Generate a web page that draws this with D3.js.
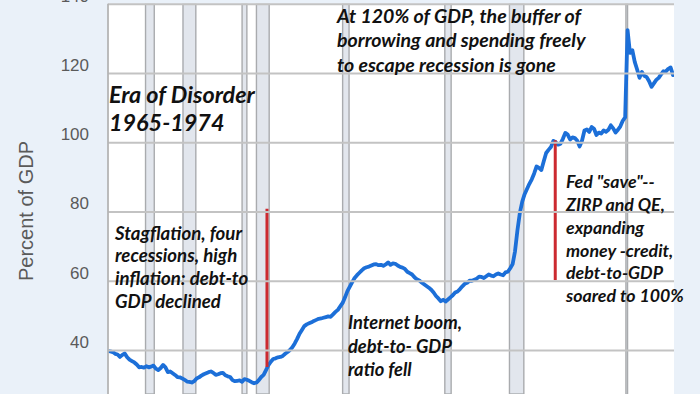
<!DOCTYPE html>
<html><head><meta charset="utf-8">
<script src="https://cdn.jsdelivr.net/npm/d3@7"></script>
<style>
html,body{margin:0;padding:0;background:#eaf1f9;}
svg{display:block;}
</style></head><body>
<svg id="chart" width="700" height="394"></svg>
<script>
// ---------------- DATA ----------------
const startYear = 1966;            // first quarter of the series (quarterly data)
const debtToGdp = [
  39.7, 39.6, 39.4, 38.9,   // 1966
  38.7, 38.0, 38.6, 39.0,   // 1967
  37.9, 37.2, 36.8, 36.4,   // 1968
  35.8, 35.0, 35.1, 34.9,   // 1969
  35.3, 35.0, 35.2, 35.5,   // 1970
  34.6, 34.2, 34.8, 35.7,   // 1971
  35.0, 33.6, 33.8, 33.3,   // 1972
  32.8, 32.2, 32.1, 31.8,   // 1973
  31.4, 30.9, 30.8, 30.6,   // 1974
  31.0, 31.8, 32.1, 32.6,   // 1975
  33.0, 33.3, 33.6, 33.8,   // 1976
  33.4, 32.8, 33.0, 33.3,   // 1977
  33.4, 32.7, 32.4, 32.2,   // 1978
  31.3, 31.0, 31.1, 31.2,   // 1979
  30.8, 31.6, 31.4, 31.1,   // 1980
  30.7, 30.4, 30.6, 31.3,   // 1981
  32.2, 32.8, 34.2, 35.6,   // 1982
  36.6, 37.4, 37.6, 37.9,   // 1983
  38.0, 38.3, 38.9, 39.4,   // 1984
  40.0, 40.8, 41.9, 43.2,   // 1985
  44.7, 45.8, 46.9, 47.4,   // 1986
  47.7, 48.0, 48.4, 48.7,   // 1987
  49.0, 49.1, 49.3, 49.5,   // 1988
  49.7, 49.6, 50.3, 51.0,   // 1989
  51.6, 52.6, 53.6, 55.2,   // 1990
  57.0, 58.3, 59.6, 60.8,   // 1991
  61.6, 62.3, 63.0, 63.6,   // 1992
  63.9, 64.1, 64.4, 64.7,   // 1993
  64.8, 64.5, 64.6, 64.3,   // 1994
  64.7, 65.3, 64.6, 65.0,   // 1995
  64.9, 64.4, 64.0, 63.8,   // 1996
  63.4, 62.6, 62.2, 61.8,   // 1997
  61.0, 60.4, 60.1, 59.5,   // 1998
  59.0, 58.5, 58.0, 57.4,   // 1999
  56.6, 55.6, 54.9, 54.1,   // 2000
  54.5, 54.0, 54.6, 55.2,   // 2001
  55.8, 56.6, 56.9, 57.6,   // 2002
  58.4, 59.1, 59.4, 60.0,   // 2003
  60.0, 60.3, 60.6, 61.2,   // 2004
  61.1, 60.8, 61.3, 61.8,   // 2005
  61.5, 61.3, 61.8, 62.1,   // 2006
  61.8, 61.6, 62.4, 62.6,   // 2007
  63.6, 64.8, 68.5, 74.5,   // 2008
  79.5, 82.8, 85.0, 86.5,   // 2009
  88.0, 89.3, 91.0, 93.0,   // 2010
  92.6, 92.0, 94.5, 96.9,   // 2011
  97.8, 98.6, 100.4, 100.0, // 2012
  99.3, 99.6, 101.0, 102.7, // 2013
  102.2, 100.8, 101.4, 101.2, // 2014
  100.4, 98.8, 100.5, 103.4,  // 2015
  103.7, 103.0, 104.4, 103.9, // 2016
  102.1, 102.8, 102.5, 103.4, // 2017
  103.0, 103.6, 104.9, 104.0, // 2018
  102.8, 103.6, 104.6, 106.2, // 2019
  107.2, 132.4, 125.8, 126.6, // 2020
  123.2, 121.0, 118.6, 120.3, // 2021
  119.2, 118.8, 117.6, 116.0, // 2022
  117.0, 118.0, 118.6, 119.6, // 2023
  120.5, 120.4, 121.2, 121.6, // 2024
  119.4                       // 2025
];
const recessionStarts = [1969.92, 1973.83, 1980.0, 1981.5, 1990.5, 2001.17, 2007.92, 2020.08];
const recessionEnds   = [1970.83, 1975.17, 1980.5, 1982.83, 1991.17, 2001.83, 2009.42, 2020.25];
const yTicks = [40, 60, 80, 100, 120, 140];
const yAxisTitle = "Percent of GDP";
const markerYears = [1982.6, 2012.7];
const markerLows  = [35.1, 60.2];
const markerHighs = [80.8, 100.6];
const noteTop      = ["At 120% of GDP, the buffer of", "borrowing and spending freely", "to escape recession is gone"];
const noteEra      = ["Era of Disorder", "1965-1974"];
const noteStag     = ["Stagflation, four", "recessions, high", "inflation: debt-to", "GDP declined"];
const noteInternet = ["Internet boom,", "debt-to- GDP", "ratio fell"];
const noteFed      = ["Fed \"save\"--", "ZIRP and QE,", "expanding", "money -credit,", "debt-to-GDP", "soared to 100%"];

// ---------------- LAYOUT ----------------
const W = 700, H = 394;
const plotL = 108, plotR = 674;
const svg = d3.select("#chart");

const x = d3.scaleLinear().domain([1966, 2025.1]).range([plotL, plotR]);
const y = d3.scaleLinear().domain([40, 120]).range([350, 73]);
const plotT = y(140);

svg.append("rect").attr("width", W).attr("height", H).attr("fill", "#eaf1f9");
svg.append("rect").attr("x", plotL).attr("y", plotT).attr("width", plotR - plotL).attr("height", H - plotT).attr("fill", "#ffffff");

svg.append("clipPath").attr("id", "clip").append("rect")
  .attr("x", plotL).attr("y", plotT).attr("width", plotR - plotL).attr("height", H - plotT);

const g = svg.append("g").attr("clip-path", "url(#clip)");

// recession bars
g.selectAll("rect.rec").data(recessionStarts.map((s, i) => [s, recessionEnds[i]]))
  .join("rect").attr("class", "rec")
  .attr("x", d => x(d[0])).attr("y", plotT)
  .attr("width", d => x(d[1]) - x(d[0])).attr("height", H - plotT)
  .attr("fill", "#e2e6ed").attr("stroke", "#a9abae").attr("stroke-width", 1.4);

// gridlines
const grid = svg.append("g").attr("transform", `translate(${plotL},0)`)
  .call(d3.axisLeft(y).tickValues(yTicks).tickSize(-(plotR - plotL)).tickFormat(""));
grid.select(".domain").remove();
grid.selectAll("line").attr("stroke", "#c3c3c3").attr("stroke-width", 1.8);

// left border
svg.append("line").attr("x1", plotL).attr("x2", plotL).attr("y1", plotT).attr("y2", H)
  .attr("stroke", "#b5b5b5").attr("stroke-width", 1.8);

// y axis labels
const ax = svg.append("g").attr("transform", `translate(${plotL},0)`)
  .call(d3.axisLeft(y).tickValues(yTicks).tickSize(0).tickPadding(19));
ax.select(".domain").remove();
ax.selectAll("text").attr("font-family", "Liberation Sans, Arial, sans-serif")
  .attr("font-size", 17).attr("fill", "#5a5a5a").attr("transform", "translate(0,-8)");

svg.append("text").attr("transform", "translate(33,211) rotate(-90)")
  .attr("text-anchor", "middle").attr("font-family", "Liberation Sans, Arial, sans-serif")
  .attr("font-size", 20).attr("fill", "#5a5a5a").text(yAxisTitle);

// series line
const series = debtToGdp.map((v, i) => ({t: startYear + i / 4, v}));
g.append("path").datum(series)
  .attr("fill", "none").attr("stroke", "#1c6fd8").attr("stroke-width", 3.8)
  .attr("stroke-linejoin", "round").attr("stroke-linecap", "round")
  .attr("d", d3.line().x(d => x(d.t)).y(d => y(d.v)));

// red markers
g.selectAll("line.mk").data(markerYears.map((t, i) => ({t, lo: markerLows[i], hi: markerHighs[i]})))
  .join("line").attr("class", "mk")
  .attr("x1", d => x(d.t)).attr("x2", d => x(d.t))
  .attr("y1", d => y(d.hi)).attr("y2", d => y(d.lo))
  .attr("stroke", "#cc2a30").attr("stroke-width", 3);

// annotations
function note(lines, left, firstCenter, lineH, baseSize, refLine, targetW) {
  const t = svg.append("g");
  const texts = t.selectAll("text").data(lines).join("text")
    .attr("x", left).attr("y", (d, i) => firstCenter + i * lineH)
    .attr("dy", "0.35em")
    .attr("font-family", "Lato, 'Open Sans', sans-serif")
    .attr("font-weight", "bold").attr("font-style", "italic")
    .attr("font-size", baseSize).attr("fill", "#111111").text(d => d);
  const w = texts.nodes()[refLine].getComputedTextLength();
  const s = baseSize * targetW / w;
  texts.attr("font-size", s);
}
note(noteTop, 337, 16, 24.5, 19, 0, 244);
note(noteEra, 109, 95, 28, 22, 0, 146);
note(noteStag, 115, 233, 22.7, 17, 0, 127);
note(noteInternet, 348, 323, 23.5, 17, 0, 114);
note(noteFed, 566, 182, 22.8, 17, 5, 118);
</script>
</body></html>
